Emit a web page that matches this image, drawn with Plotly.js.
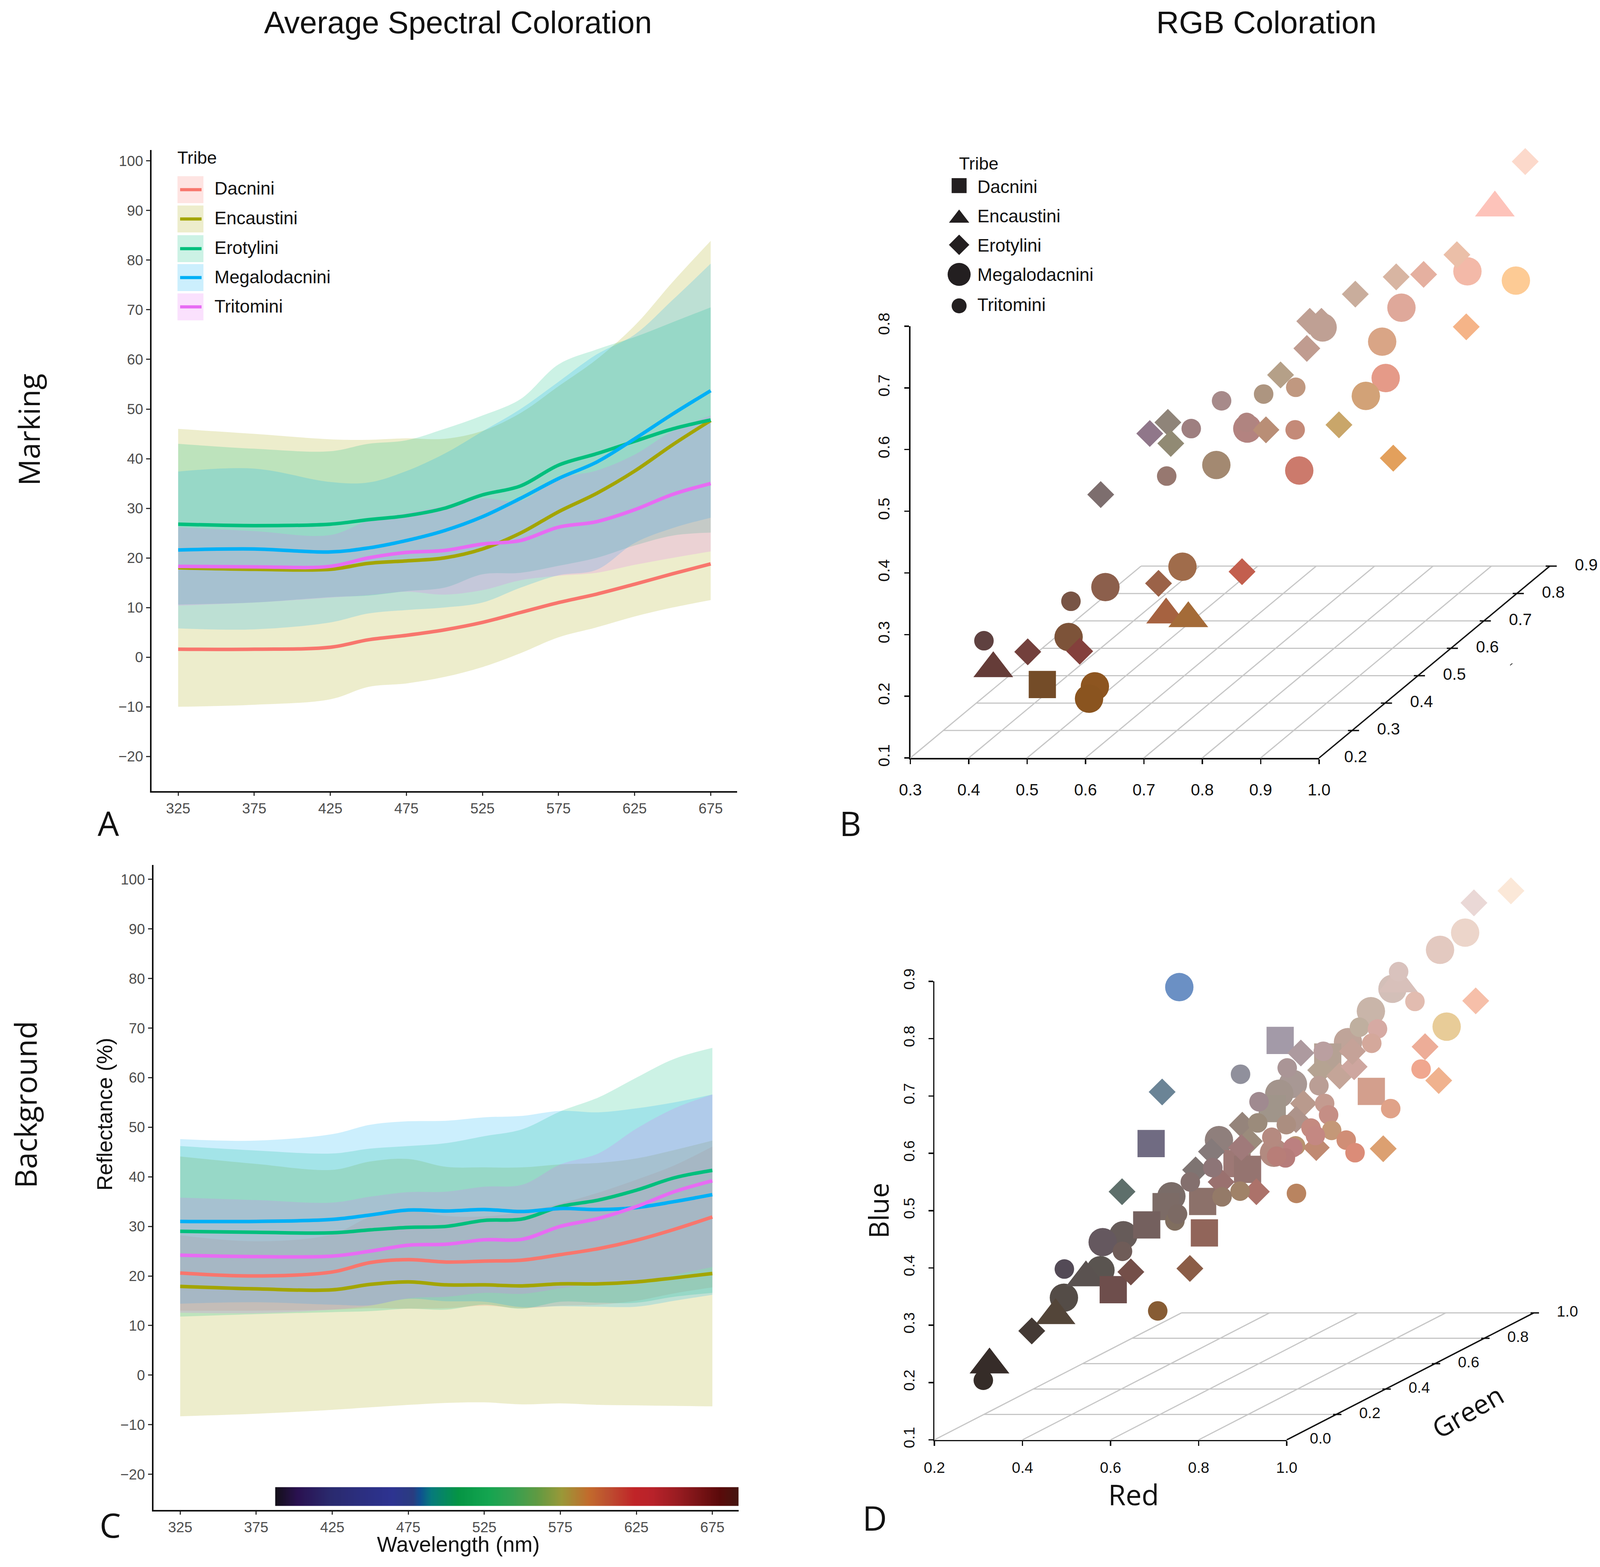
<!DOCTYPE html>
<html><head><meta charset="utf-8">
<script src="https://cdn.plot.ly/plotly-3.0.1.min.js"></script>
<style>html,body{margin:0;padding:0;background:#fff;overflow:hidden}</style>
</head><body><div id="c"></div>
<script>
const W=4255,H=4011;
// the window may be narrower than the reference: keep the whole chart in view
const pageW=Math.min(window.innerWidth||W,W);
const fit=(1+pageW/W)/2, fs=n=>Math.round(n*fit*10)/10;
document.getElementById('c').style.cssText='width:'+pageW+'px;height:'+H+'px';
const tribes=['Dacnini','Encaustini','Erotylini','Megalodacnini','Tritomini'];
const tribeColors=['#F8766D','#A3A500','#00BF7D','#00B0F6','#E76BF3'];
const ribbonColors=['rgba(248,118,109,0.2)','rgba(163,165,0,0.2)','rgba(0,191,125,0.2)','rgba(0,176,246,0.2)','rgba(231,107,243,0.2)'];
const wavelengths=[325,375,425,450,475,500,525,550,575,600,625,650,675];

// Panel A: Marking, mean reflectance
const aDacnini=[1.6,1.6,2.0,3.5,4.4,5.5,7.0,9.0,11.0,12.7,14.7,16.8,18.8];
const aEncaustini=[18,17.7,17.7,18.9,19.4,20,21.8,25,29.3,33,37.5,42.8,47.7];
const aErotylini=[26.8,26.5,26.8,27.7,28.5,30,32.7,34.5,38.7,41,43.5,46,47.8];
const aMegalodacnini=[21.6,21.8,21.2,22,23.5,25.5,28.3,32,36,39.3,44,49,53.7];
const aTritomini=[18.3,18.2,18.3,20,21.1,21.5,22.8,23.5,26.2,27.3,29.7,32.8,35];
// Panel A ribbons (Dacnini has a single sample, no ribbon)
const aEncUp=[46,45,43.9,43.8,44.1,44,45.6,49.2,54.6,60,66.8,75.6,83.9];
const aEncLo=[-10,-9.6,-8.5,-6,-5.3,-4,-2,0.8,4,6,8.2,10,11.5];
const aEroUp=[43,42,41.5,43,43.7,46,48.7,52,59,62,64.5,67.5,70.5];
const aEroLo=[10.6,11,12.1,12.4,13.3,14,16.7,17,18.4,20,22.5,24.5,25.1];
const aMegUp=[37.4,38,35.3,35.2,37.5,41,45.5,50,55.5,61,65,72,79.3];
const aMegLo=[5.8,5.6,7,8.8,9.5,10,11,14,16.5,17.6,23,26,28.1];
const aTriUp=[26.2,25.4,24.6,27.5,29,30.4,32,31.5,36,37.6,40.8,45.6,48.7];
const aTriLo=[10.4,11,12,12.5,13.2,12.6,13.5,15.5,16.4,17,18.6,20,21.3];

// Panel C: Background, mean reflectance
const cDacnini=[20.6,20,20.8,22.7,23.3,22.8,23,23.2,24.3,25.5,27.2,29.4,31.9];
const cEncaustini=[17.9,17.4,17.2,18.3,18.8,18.2,18.2,18,18.4,18.4,18.8,19.6,20.5];
const cErotylini=[29,28.8,28.7,29.3,29.8,30,31.2,31.5,34,35.3,37.3,39.8,41.3];
const cMegalodacnini=[31,31,31.4,32.3,33.3,33.1,33.4,33,33.6,33.4,33.8,35,36.4];
const cTritomini=[24.2,23.9,24,25,26.2,26.4,27.3,27.4,30,31.6,34,37,39.2];
// Panel C ribbons
const cDacUp=[28.2,27,28.4,31.9,33.2,32.1,32,32.9,34.6,36.8,39.4,42.3,46.1];
const cDacLo=[13,13,13.2,13.5,13.4,13.5,14,13.5,14,14.2,15,16.5,17.7];
const cEncUp=[44.1,42.6,41.4,43.1,43.6,42,41.9,41.9,42.5,42.8,43.7,45.4,47.3];
const cEncLo=[-8.3,-7.8,-7,-6.5,-6,-5.6,-5.5,-5.9,-5.7,-6,-6.1,-6.2,-6.3];
const cEroUp=[46.2,45.3,44.7,45.7,46.2,46.8,48.2,49.6,53.2,56,60,63.8,66];
const cEroLo=[11.8,12.3,12.7,12.9,13.4,13.2,14.2,13.4,14.8,14.6,14.6,15.8,16.6];
const cMegUp=[47.6,47.3,48.6,50.5,51.2,51.3,52,52.3,53.3,53,53.8,55,56.6];
const cMegLo=[14.4,14.7,14.2,14.1,15.4,14.9,14.8,13.7,13.9,13.8,13.8,15,16.2];
const cTriUp=[35.8,35.3,34.8,36,36.9,37,38,38.4,42.5,44.7,49.7,53.8,56.6];
const cTriLo=[12.6,12.5,13.2,14,15.5,15.8,16.6,16.4,17.5,18.5,18.3,20.2,21.8];

// Visible-spectrum strip
const spectrumNm=[388,402,424,464,478,483,490,508,528,544,560,576,594,606,624,636,654,680,692];
const spectrumColors=['#14101a','#2a1150','#2a2a6e','#2d3391','#2a3c80','#0f5090','#067a7c','#059544','#14a550','#35a050','#609a42','#9a9838','#c26a2c','#bd5030','#c02428','#b8222a','#951b20','#5a0a0a','#451510'];

// Panel B: Marking RGB, positions read along the red and blue axes of the oblique plot
const bMegX=[1.254,1.337,1.141,1.006,1.108,1.114,1.080,.877,.824,.966,.766,.634,.571,.616,.606];
const bMegY=[.889,.874,.830,.798,.775,.716,.687,.634,.575,.566,.410,.377,.296,.216,.196];
const bMegC=['#f3b9a8','#fdcb95','#dfa89a','#bfa094','#d9a586','#e59a88','#d2a277','#b38380','#a38971','#cc7a6c','#a06c4b','#8c5f4c','#7d5339','#8d5520','#8a541f'];
const bEncX=[1.301,.738,.776,.442];
const bEncY=[.992,.332,.326,.245];
const bEncC=['#fdc3ba','#a66240','#a46b38','#653c38'];
const bDacX=[.526];
const bDacY=[.219];
const bDacC=['#744c28'];
const bEroX=[1.353,1.236,1.132,1.179,1.062,.984,1.004,.979,1.252,.934,.909,1.034,.741,.746,.710,1.127,.626,.868,.725,.501,.590];
const bEroY=[1.067,.916,.880,.884,.852,.808,.808,.764,.799,.721,.632,.640,.644,.610,.626,.586,.527,.402,.383,.272,.273];
const bEroC=['#fcd9cb','#ebbfa8','#d8b5a2','#e5b0a0','#c9ad9c','#bfa094','#bfa094','#c09c90','#f5b488','#b5a088','#b98e76','#c9a66a','#8f8479','#918a74','#90778a','#e3a05c','#7d6e6e','#c35f4e','#9b6248','#73403c','#84403c'];
const bTriX=[.833,.905,.960,.781,.959,.739,.876,.575,.426];
const bTriY=[.679,.690,.701,.634,.632,.557,.644,.354,.290];
const bTriC=['#a78a8a','#ad9580','#c09880','#9e7f80','#c48a78','#977870','#b08480','#785445','#5f4140'];

// Panel D: Background RGB
const dMegX=[.756,1.191,1.240,1.139,1.014,.983,.846,.738,.971,.629,.582,.577,.494,1.348,1.405,1.363];
const dMegY=[.890,.848,.887,.794,.721,.704,.623,.525,.601,.457,.445,.396,.348,.955,.985,.821];
const dMegC=['#6b90c4','#c9b5a9','#d3bfb8','#bfa499','#a89894','#a3948c','#8f7f7c','#7a6c68','#b28a80','#665b59','#65585f','#5a5450','#544c47','#e3c9c0','#ecd5ca','#e8cc98'];
const dEncX=[.325,.475,.544,1.253];
const dEncY=[.231,.317,.383,.896];
const dEncC=['#362c29','#534539','#5a5250','#d8c0ba'];
const dDacX=[.985,.692,1.192,.887,.911,.809,.813,.726,.682,.606,1.093,.967];
const dDacY=[.797,.617,.708,.582,.572,.516,.461,.507,.475,.362,.768,.678];
const dDacC=['#a39aa8','#706b82','#d39f8d','#9d7875','#957470','#8c716a','#91655a','#7c6b66','#74605e','#6e4e4c','#b5a194','#a0958a'];
const dEroX=[.717,.626,1.032,1.077,1.120,1.153,1.149,1.038,1.021,.899,.915,.897,.829,.793,.851,.931,1.067,1.219,.780,.646,.421,1.425,1.509,1.429,1.314,1.345];
const dEroY=[.707,.533,.775,.745,.735,.751,.778,.687,.659,.649,.621,.610,.603,.571,.550,.533,.610,.608,.399,.393,.290,1.037,1.058,.866,.786,.727];
const dEroC=['#6b8496','#5e6f6b','#ad9a9f','#b5a392','#c4a598','#cea69f','#c5a298','#b99a8d','#ad938a','#95847b','#9b8b7c','#a07a7a','#857a7a','#7e7472','#9a716f','#ac726a','#c08a72','#dca071','#8b5d47','#744f49','#443a35','#ead8d6','#fbe8d8','#f6bfa9','#edad98','#f0b28e'];
const dTriX=[.311,.495,.707,.627,.746,.752,.895,.937,1.073,1.086,1.095,1.102,1.135,1.155,1.055,1.065,.966,1.020,1.014,.997,.977,.999,1.022,.894,.853,.832,.781,.934,1.001,1.083,1.165,1.206,1.193,1.236,1.305,1.291,1.254];
const dTriY=[.204,.398,.325,.429,.482,.494,.738,.690,.718,.687,.667,.640,.623,.601,.644,.631,.628,.613,.610,.592,.595,.650,.530,.534,.524,.575,.550,.653,.749,.778,.820,.817,.792,.678,.747,.865,.917];
const dTriC=['#352c28','#534a56','#875c34','#6f5c58','#806e5f','#7c6a64','#90909c','#a08a90','#ba9e95','#c49b90','#c58e85','#c49878','#d08e76','#db8c78','#c48a80','#c48882','#b58a80','#b89270','#bc8080','#b67c7a','#b87e78','#ab8e80','#b98460','#a08268','#947a68','#8d7577','#84706e','#9b8b7b','#aa9596','#ba9fa0','#bfaf9f','#d6aaa3','#d4a89b','#e0a288','#f0a78f','#e2bcb0','#d9c2bd'];

const bLegX=[.3835,.3835,.3835,.3835,.3835];
const bLegY=[1.028,.975,.932,.884,.833];
const redTicksB=[.3,.4,.5,.6,.7,.8,.9,1.0];
const greenTicksB=[.2,.3,.4,.5,.6,.7,.8,.9];
const blueTicksB=[.1,.2,.3,.4,.5,.6,.7,.8];
const redTicksD=[.2,.4,.6,.8,1.0];
const greenTicksD=[0,.2,.4,.6,.8,1.0];
const blueTicksD=[.1,.2,.3,.4,.5,.6,.7,.8,.9];

const symbols=['square','triangle-up','diamond','circle','circle'];
const sizes=[71,90,54,74,51].map(fs);
const legSizes=[39,46,41,60,39].map(fs);
const sansUI='"Liberation Sans", Arial, sans-serif';
const sansTitle='"Open Sans", "Noto Sans", sans-serif';
const px=x=>x/W, py=y=>1-y/H;

const traces=[];
const stripX=[];for(let n=388;n<=692;n+=1)stripX.push(n);
traces.push({type:'heatmap',xaxis:'x3',yaxis:'y3',x:stripX,y0:-24.5,dy:3.8,z:[stripX],zmin:388,zmax:692,showscale:false,hoverinfo:'skip',
  colorscale:spectrumNm.map((n,i)=>[(n-388)/304,spectrumColors[i]])});

function ribbons(xa,ya,pairs){
  pairs.forEach(([idx,up,lo])=>{
    traces.push({x:wavelengths,y:up,xaxis:xa,yaxis:ya,mode:'lines',line:{width:0,shape:'spline',smoothing:1},showlegend:false,hoverinfo:'skip'});
    traces.push({x:wavelengths,y:lo,xaxis:xa,yaxis:ya,mode:'lines',line:{width:0,shape:'spline',smoothing:1},fill:'tonexty',fillcolor:ribbonColors[idx],showlegend:false,hoverinfo:'skip',name:tribes[idx]+' ribbon'});
  });
}
function means(xa,ya,series){
  series.forEach((s,i)=>traces.push({x:wavelengths,y:s,xaxis:xa,yaxis:ya,mode:'lines',name:tribes[i],showlegend:false,line:{color:tribeColors[i],width:9,shape:'spline',smoothing:1}}));
}
ribbons('x','y',[[1,aEncUp,aEncLo],[2,aEroUp,aEroLo],[3,aMegUp,aMegLo],[4,aTriUp,aTriLo]]);
means('x','y',[aDacnini,aEncaustini,aErotylini,aMegalodacnini,aTritomini]);
ribbons('x3','y3',[[0,cDacUp,cDacLo],[1,cEncUp,cEncLo],[2,cEroUp,cEroLo],[3,cMegUp,cMegLo],[4,cTriUp,cTriLo]]);
means('x3','y3',[cDacnini,cEncaustini,cErotylini,cMegalodacnini,cTritomini]);

// empty traces keep the visible oblique-plot axes alive
traces.push({x:[.3],y:[.1],xaxis:'x2',yaxis:'y2',mode:'markers',marker:{opacity:0,size:1},hoverinfo:'skip'});
traces.push({x:[.2],y:[.1],xaxis:'x4',yaxis:'y4',mode:'markers',marker:{opacity:0,size:1},hoverinfo:'skip'});

// oblique floor: green moves a point right and up
const obB=(r,g,b)=>[r+(g-.2)*.5643,b+(g-.2)*.4443];
const obD=(r,g,b)=>[r+g*.5607,b+g*.2215];
function seg(xa,ya,p,q,color,width){traces.push({x:[p[0],q[0]],y:[p[1],q[1]],xaxis:xa,yaxis:ya,mode:'lines',line:{color,width},showlegend:false,hoverinfo:'skip'});}
function floor(xa,ya,ob,reds,greens,zBase,labelShift,labelFont){
  const gLo=greens[0],gHi=greens[greens.length-1],rLo=reds[0],rHi=reds[reds.length-1];
  greens.slice(1).forEach(g=>seg(xa,ya,ob(rLo,g,zBase),ob(rHi,g,zBase),'#c6c6c6',3));
  reds.slice(0,-1).forEach(r=>seg(xa,ya,ob(r,gLo,zBase),ob(r,gHi,zBase),'#c6c6c6',3));
  seg(xa,ya,ob(rHi,gLo,zBase),ob(rHi,gHi,zBase),'#111',3.5);
  const lab=greens.map(g=>ob(rHi,g,zBase));
  greens.slice(1).forEach(g=>{const c=ob(rHi,g,zBase);seg(xa,ya,[c[0]-.007,c[1]],[c[0]+.012,c[1]],'#111',3.5);});
  traces.push({x:lab.map(p=>p[0]+labelShift),y:lab.map(p=>p[1]),text:greens.map(g=>g.toFixed(1)),xaxis:xa,yaxis:ya,mode:'text',textposition:'middle center',textfont:{family:sansUI,size:labelFont,color:'#111'},showlegend:false,hoverinfo:'skip'});
}
floor('x5','y5',obB,redTicksB,greenTicksB,.1,.0625,fs(43));
floor('x6','y6',obD,redTicksD,greenTicksD,.1,.0765,fs(40));

function pts(xa,ya,i,x,y,c){traces.push({x,y,xaxis:xa,yaxis:ya,mode:'markers',name:tribes[i],showlegend:false,marker:{symbol:symbols[i],size:sizes[i],color:c,line:{width:0}}});}
pts('x5','y5',3,bMegX,bMegY,bMegC);pts('x5','y5',1,bEncX,bEncY,bEncC);pts('x5','y5',0,bDacX,bDacY,bDacC);pts('x5','y5',2,bEroX,bEroY,bEroC);pts('x5','y5',4,bTriX,bTriY,bTriC);
pts('x6','y6',3,dMegX,dMegY,dMegC);pts('x6','y6',1,dEncX,dEncY,dEncC);pts('x6','y6',0,dDacX,dDacY,dDacC);pts('x6','y6',2,dEroX,dEroY,dEroC);pts('x6','y6',4,dTriX,dTriY,dTriC);
tribes.forEach((t,i)=>traces.push({x:[bLegX[i]],y:[bLegY[i]],xaxis:'x5',yaxis:'y5',mode:'markers',showlegend:false,hoverinfo:'skip',marker:{symbol:symbols[i],size:legSizes[i],color:'#231f20',line:{width:0}}}));

const anns=[],shapes=[];
function T(text,X,Y,size,family,opt){anns.push(Object.assign({text,x:px(X),y:py(Y),xref:'paper',yref:'paper',showarrow:false,xanchor:'center',yanchor:'middle',font:{size:fs(size),family,color:'#111'}},opt||{}));}
T('Average Spectral Coloration',1218,57,81,sansUI);
T('RGB Coloration',3368,57,82,sansUI);
T('Marking',75,1100,77,sansTitle,{textangle:-90});
T('Background',66,2828,78,sansTitle,{textangle:-90});
T('A',288,2106,88,sansTitle);T('B',2261,2106,88,sansTitle);T('C',293,3902,88,sansTitle);T('D',2326,3884,88,sansTitle);
T('Red',3015,3824,74,sansTitle);
T('Green',3902,3612,70,sansTitle,{textangle:-30});
T('Wavelength (nm)',1219,3953,56,sansUI);
T('Reflectance (%)',278,2852,56,sansUI,{textangle:-90});
// legend A
T('Tribe',470,403,46,sansUI,{xanchor:'left'});
const keyTop=[451,526,602,676,751],labY=[482,558,634,708.5,784];
tribes.forEach((t,i)=>{
  shapes.push({type:'rect',xref:'paper',yref:'paper',x0:px(472),x1:px(541),y0:py(keyTop[i]),y1:py(keyTop[i]+69),fillcolor:ribbonColors[i],line:{width:0}});
  shapes.push({type:'line',xref:'paper',yref:'paper',x0:px(479),x1:px(536),y0:py(keyTop[i]+34.5),y1:py(keyTop[i]+34.5),line:{color:tribeColors[i],width:8}});
  T(t,568,labY[i],47,sansUI,{xanchor:'left'});
});
// legend B
T('Tribe',2548,418,46,sansUI,{xanchor:'left'});
const legBY=[478,553,628,703,780];
tribes.forEach((t,i)=>T(t,2597,legBY[i],47,sansUI,{xanchor:'left'}));
shapes.push({type:'line',xref:'paper',yref:'paper',x0:px(4016),x1:px(4022),y0:py(1703),y1:py(1698),line:{color:'#333',width:2}});

const wlAxis={range:[307.5,692.3],tickvals:[325,375,425,475,525,575,625,675],ticks:'outside',ticklen:8,tickwidth:3,tickcolor:'#333',showline:true,linewidth:4,linecolor:'#111',showgrid:false,zeroline:false,tickfont:{family:sansUI,size:fs(38),color:'#4d4d4d'}};
const refAxis={range:[-27,102.2],tickvals:[-20,-10,0,10,20,30,40,50,60,70,80,90,100],ticks:'outside',ticklen:10,tickwidth:3,tickcolor:'#333',showline:true,linewidth:4,linecolor:'#111',showgrid:false,zeroline:false,tickfont:{family:sansUI,size:fs(38),color:'#4d4d4d'}};
const obAxis=(range,vals,size,extra)=>Object.assign({range,tickvals:vals,tickformat:'.1f',ticks:'outside',ticklen:12,tickwidth:3.5,tickcolor:'#111',showline:true,linewidth:3.5,linecolor:'#111',showgrid:false,zeroline:false,tickfont:{family:sansUI,size:fs(size),color:'#111'}},extra||{});
// wide hidden axes share the scale of the visible ones, so points may lie past the axis ends
const wide=(domA,domB,val0,px0,pxPerUnit)=>[val0+(domA-px0)/pxPerUnit,val0+(domB-px0)/pxPerUnit];
const bUx=(3508-2421)/.7,bUy=(1940-835)/.7,dUx=(3422-2485)/.8,dUy=(3685.5-2512)/.8;

const layout={width:pageW,height:H,margin:{l:0,r:0,t:0,b:0},paper_bgcolor:'#fff',plot_bgcolor:'rgba(0,0,0,0)',showlegend:false,hovermode:false,
 xaxis:Object.assign({},wlAxis,{domain:[px(403),px(1960)],anchor:'y'}),
 yaxis:Object.assign({},refAxis,{domain:[py(2025),py(384)],anchor:'x'}),
 xaxis3:Object.assign({},wlAxis,{domain:[px(408),px(1964)],anchor:'y3',range:[307.4,692.2]}),
 yaxis3:Object.assign({},refAxis,{domain:[py(3865),py(2214)],anchor:'x3',range:[-27.2,102.9]}),
 xaxis2:obAxis([.3,1],redTicksB,43,{domain:[px(2421),px(3508)],anchor:'y2',ticklabelstandoff:30}),
 yaxis2:obAxis([.1,.8],blueTicksB,42,{domain:[py(1940),py(835)],anchor:'x2',tickangle:-90,ticklabelstandoff:22}),
 xaxis4:obAxis([.2,1],redTicksD,40,{domain:[px(2485),px(3422)],anchor:'y4',ticklabelstandoff:22}),
 yaxis4:obAxis([.1,.9],blueTicksD,40,{domain:[py(3685.5),py(2512)],anchor:'x4',tickangle:-90,ticklabelstandoff:20,title:{text:'Blue',font:{family:sansTitle,size:fs(70),color:'#111'},standoff:8}}),
 xaxis5:{visible:false,domain:[px(2300),px(4255)],anchor:'y5',range:wide(2300,4255,.3,2421,bUx)},
 yaxis5:{visible:false,domain:[py(2100),py(300)],anchor:'x5',range:wide(1940-2100,1940-300,.1,0,bUy)},
 xaxis6:{visible:false,domain:[px(2400),px(4255)],anchor:'y6',range:wide(2400,4255,.2,2485,dUx)},
 yaxis6:{visible:false,domain:[py(3800),py(2200)],anchor:'x6',range:wide(3685.5-3800,3685.5-2200,.1,0,dUy)},
 annotations:anns,shapes};
Plotly.newPlot('c',traces,layout,{staticPlot:true,displayModeBar:false});
</script></body></html>
